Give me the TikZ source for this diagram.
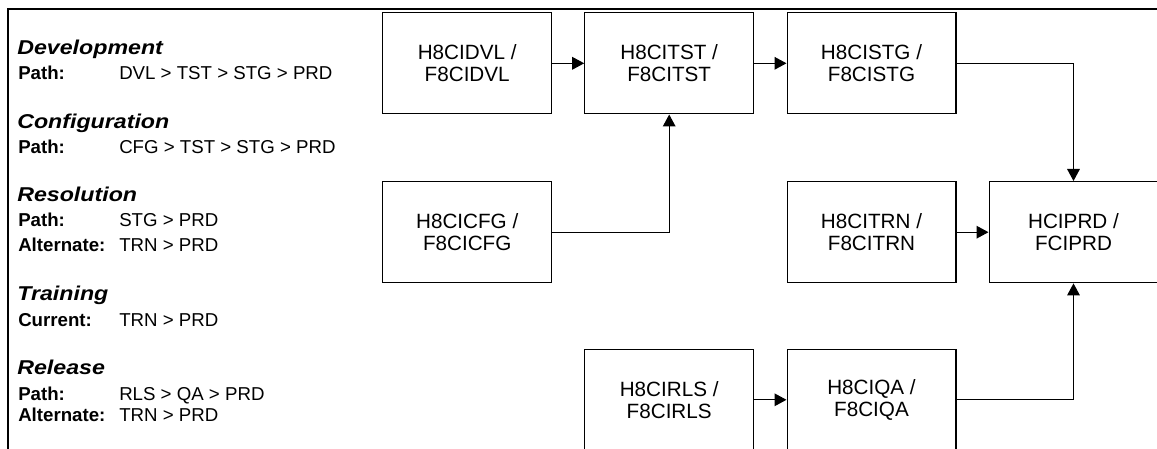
\documentclass[tikz,border=0pt]{standalone}
\usepackage{fontspec}
\setmainfont{Liberation Sans}
\newfontfamily\headfont[FakeStretch=1.16]{Liberation Sans}
\usepackage{tikz}
\usetikzlibrary{arrows.meta}
\tikzset{
  ciFrame/.style={draw=black, line width=2.1pt, line join=miter},
  ciBox/.style={draw=black, line width=0.8pt, minimum width=126.7pt, minimum height=76pt,
    inner sep=0pt, align=center, font=\fontsize{15.5}{16.3}\selectfont},
  ciArrow/.style={draw=black, line width=0.8pt, -{Triangle[length=9pt,width=9.5pt]}},
  ciHead/.style={anchor=base west, inner sep=0pt, font=\headfont\fontsize{15}{16}\selectfont\bfseries\itshape},
  ciKey/.style={anchor=base west, inner sep=0pt, font=\fontsize{14}{16}\selectfont\bfseries},
  ciVal/.style={anchor=base west, inner sep=0pt, font=\fontsize{14}{16}\selectfont}
}

\begin{document}
\begin{tikzpicture}[x=0.75pt, y=-0.75pt]
  \path[use as bounding box, clip] (0,0) rectangle (1157,449);
  \draw[ciFrame] (8,470) -- (8,9) -- (1180,9);

  % legend of promotion paths
  \node[ciHead] (hDvl) at (17,55) {Development};
  \node[ciKey] (kDvl) at (18,80) {Path:};
  \node[ciVal] (vDvl) at (119,80) {DVL > TST > STG > PRD};

  \node[ciHead] (hCfg) at (17,128.3) {Configuration};
  \node[ciKey] (kCfg) at (18,153.3) {Path:};
  \node[ciVal] (vCfg) at (119,153.3) {CFG > TST > STG > PRD};

  \node[ciHead] (hRes) at (17,201.7) {Resolution};
  \node[ciKey] (kRes) at (18,227) {Path:};
  \node[ciVal] (vRes) at (119,227) {STG > PRD};
  \node[ciKey] (kResAlt) at (18,251.7) {Alternate:};
  \node[ciVal] (vResAlt) at (119,251.7) {TRN > PRD};

  \node[ciHead] (hTrn) at (17,300) {Training};
  \node[ciKey] (kTrn) at (18,326) {Current:};
  \node[ciVal] (vTrn) at (119,326) {TRN > PRD};

  \node[ciHead] (hRls) at (17,374) {Release};
  \node[ciKey] (kRls) at (18,400) {Path:};
  \node[ciVal] (vRls) at (119,400) {RLS > QA > PRD};
  \node[ciKey] (kRlsAlt) at (18,421.7) {Alternate:};
  \node[ciVal] (vRlsAlt) at (119,421.7) {TRN > PRD};

  % environments
  \node[ciBox] (dvl) at (467.2,63.3) {H8CIDVL /\\F8CIDVL};
  \node[ciBox] (tst) at (669.2,63.3) {H8CITST /\\F8CITST};
  \node[ciBox] (stg) at (871.5,63.3) {H8CISTG /\\F8CISTG};
  \node[ciBox] (cfg) at (467.2,232.2) {H8CICFG /\\F8CICFG};
  \node[ciBox] (trn) at (871.5,232.2) {H8CITRN /\\F8CITRN};
  \node[ciBox] (prd) at (1073.5,232.2) {HCIPRD /\\FCIPRD};
  \node[ciBox] (rls) at (669.2,399.8) {H8CIRLS /\\F8CIRLS};
  \node[ciBox] (qa) at (871.5,399.8) {H8CIQA /\\F8CIQA};

  \draw[ciArrow] (dvl) -- (tst);
  \draw[ciArrow] (tst) -- (stg);
  \draw[ciArrow] (cfg.east) -| (tst.south);
  \draw[ciArrow] (stg.east) -| (prd.north);
  \draw[ciArrow] (trn) -- (prd);
  \draw[ciArrow] (rls) -- (qa);
  \draw[ciArrow] (qa.east) -| (prd.south);
\end{tikzpicture}
\end{document}
